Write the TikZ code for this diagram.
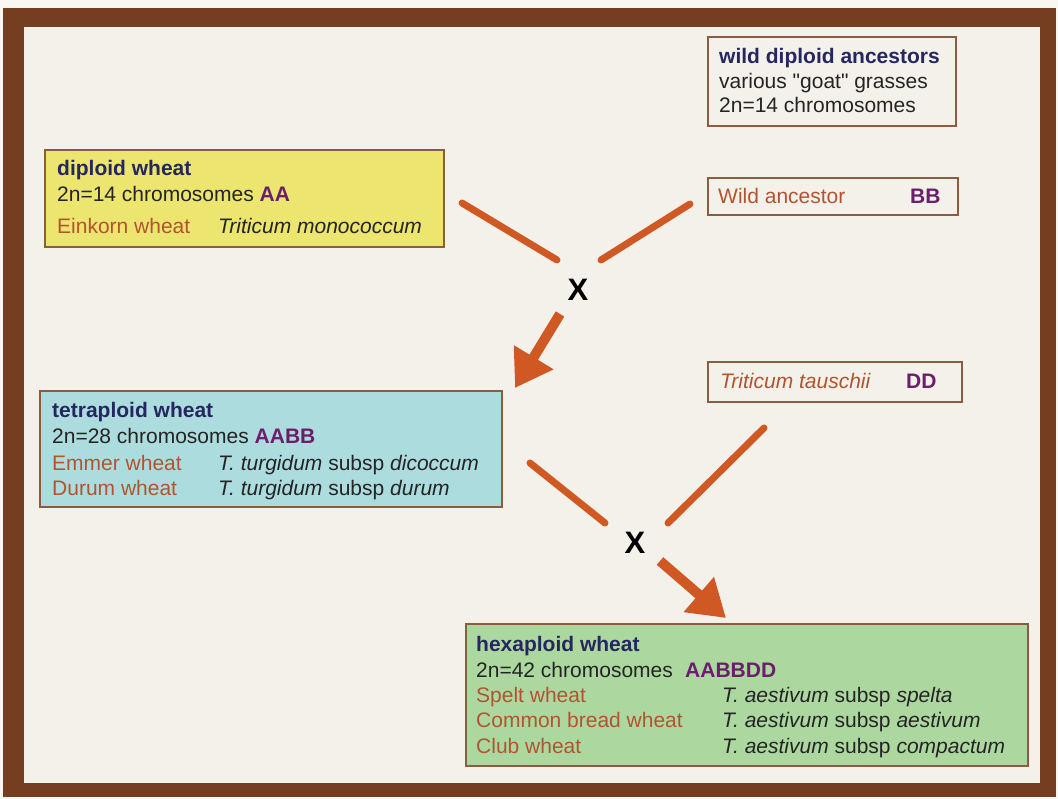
\documentclass[tikz,border=0pt]{standalone}
\usepackage{fontspec}
\setmainfont{Liberation Sans}[Ligatures=TeXOff]
\usetikzlibrary{arrows.meta}
\definecolor{frame}{RGB}{118,62,32}
\definecolor{paper}{RGB}{243,241,234}
\definecolor{outer}{RGB}{248,247,242}
\definecolor{boxline}{RGB}{138,92,64}
\definecolor{yel}{RGB}{236,229,112}
\definecolor{blu}{RGB}{172,220,222}
\definecolor{grn}{RGB}{172,216,160}
\definecolor{org}{RGB}{208,88,34}
\definecolor{navy}{RGB}{38,38,96}
\definecolor{txt}{RGB}{36,36,36}
\definecolor{cname}{RGB}{178,84,48}
\definecolor{purp}{RGB}{108,30,108}
\tikzset{
  box/.style={draw=boxline, line width=2pt, inner sep=0pt},
  t/.style={anchor=base west, inner sep=0pt, text=txt, font=\fontsize{21}{25}\selectfont},
  ttl/.style={t, text=navy, font=\fontsize{21}{25}\selectfont\bfseries},
  cn/.style={t, text=cname},
  gn/.style={t, text=purp, font=\fontsize{21}{25}\selectfont\bfseries},
  cross/.style={inner sep=0pt, text=black, font=\fontsize{31}{31}\selectfont\bfseries},
  bar/.style={draw=org, line width=7pt, line cap=round},
  arr/.style={draw=org, line width=10pt, -{Triangle[width=44pt,length=36pt]}}
}
\begin{document}
\begin{tikzpicture}[x=1pt,y=-1pt]
\useasboundingbox (0,0) rectangle (1058,799);
\fill[outer] (0,0) rectangle (1058,799);
\fill[frame] (3,8) rectangle (1056,797);
\fill[paper] (24,27) rectangle (1040,783);

% boxes
\draw[box, fill=paper] (708,37) rectangle (956,126);
\node[ttl] (wdaT) at (719,64) {wild diploid ancestors};
\node[t] (wdaA) at (719,89) {various "goat" grasses};
\node[t] (wdaB) at (719,113) {2n=14 chromosomes};

\draw[box, fill=yel] (45,150) rectangle (444,247);
\node[ttl] (dipT) at (57,176) {diploid wheat};
\node[t] (dipA) at (57,202) {2n=14 chromosomes \textcolor{purp}{\bfseries AA}};
\node[cn] (dipB) at (57,234) {Einkorn wheat};
\node[t] (dipC) at (218,234) {\itshape Triticum monococcum};

\draw[box, fill=paper] (708,178) rectangle (958,215);
\node[cn] (wild) at (718,204) {Wild ancestor};
\node[gn] (bb) at (910,204) {BB};

\draw[box, fill=blu] (40,391) rectangle (502,507);
\node[ttl] (tetT) at (52,418) {tetraploid wheat};
\node[t] (tetA) at (52,444) {2n=28 chromosomes \textcolor{purp}{\bfseries AABB}};
\node[cn] (tetB) at (52,471) {Emmer wheat};
\node[t] (tetC) at (218,471) {\textit{T. turgidum} subsp \textit{dicoccum}};
\node[cn] (tetD) at (52,496) {Durum wheat};
\node[t] (tetE) at (218,496) {\textit{T. turgidum} subsp \textit{durum}};

\draw[box, fill=paper] (708,362) rectangle (962,402);
\node[cn, font=\fontsize{21}{25}\selectfont\itshape] (taus) at (720,389) {Triticum tauschii};
\node[gn] (dd) at (906,389) {DD};

\draw[box, fill=grn] (466,624) rectangle (1028,766);
\node[ttl] (hexT) at (476,651) {hexaploid wheat};
\node[t] (hexA) at (476,677) {2n=42 chromosomes};
\node[gn] (hexG) at (685,677) {AABBDD};
\node[cn] (hexB) at (476,702) {Spelt wheat};
\node[t] (hexC) at (722,702) {\textit{T. aestivum} subsp \textit{spelta}};
\node[cn] (hexD) at (476,727) {Common bread wheat};
\node[t] (hexE) at (722,727) {\textit{T. aestivum} subsp \textit{aestivum}};
\node[cn] (hexF) at (476,753) {Club wheat};
\node[t] (hexH) at (722,753) {\textit{T. aestivum} subsp \textit{compactum}};

% crosses
\node[cross] (x1) at (578,290) {X};
\node[cross] (x2) at (635,543) {X};

\coordinate (a1) at (462,203);
\coordinate (a2) at (557,260);
\coordinate (b1) at (690,204);
\coordinate (b2) at (601,260);
\coordinate (c1) at (560,314);
\coordinate (c2) at (515,388);
\coordinate (d1) at (530,463);
\coordinate (d2) at (605,523);
\coordinate (e1) at (764,428);
\coordinate (e2) at (668,523);
\coordinate (f1) at (660,561);
\coordinate (f2) at (726,618);

\draw[bar] (a1) -- (a2);
\draw[bar] (b1) -- (b2);
\draw[arr] (c1) -- (c2);
\draw[bar] (d1) -- (d2);
\draw[bar] (e1) -- (e2);
\draw[arr] (f1) -- (f2);
\end{tikzpicture}
\end{document}
